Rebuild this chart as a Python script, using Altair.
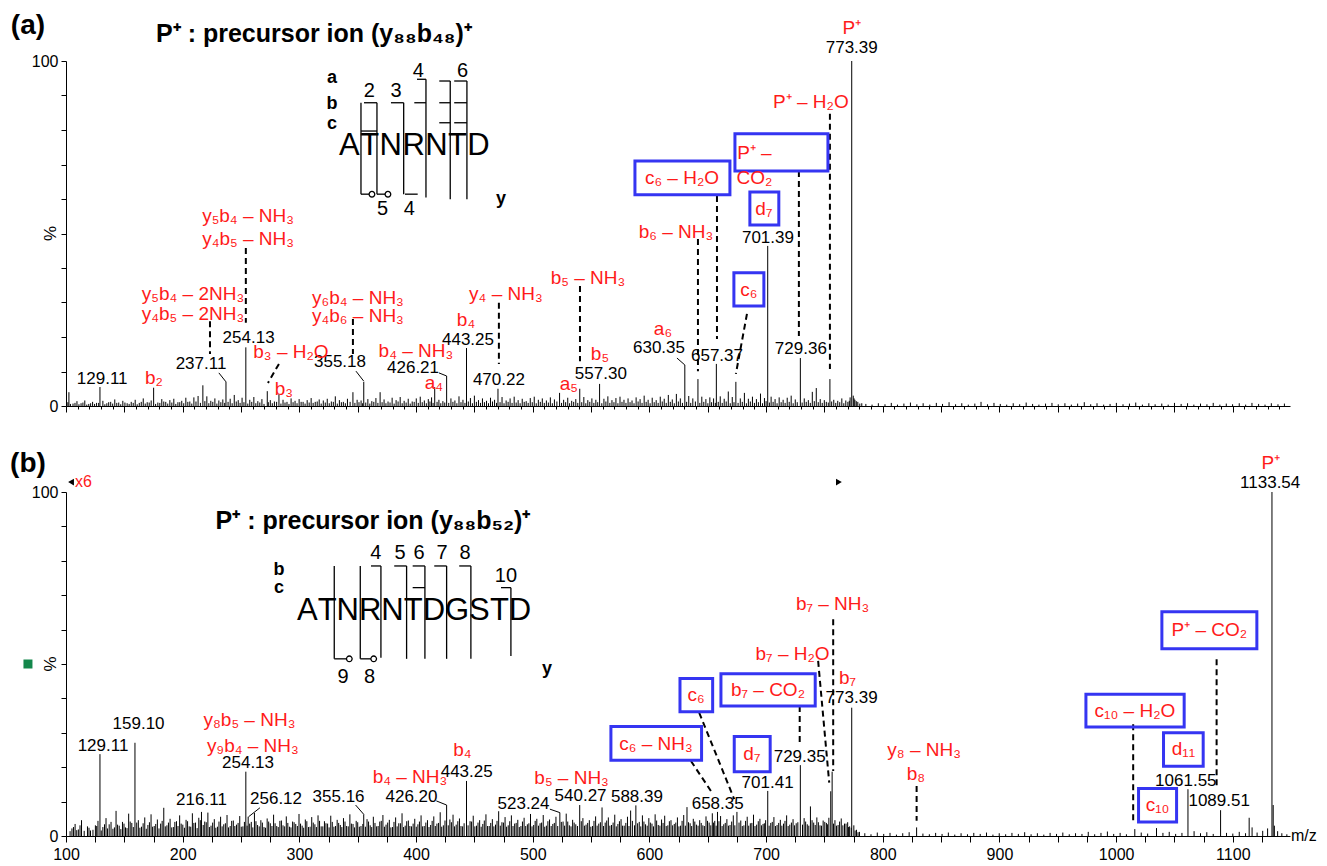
import altair as alt
import pandas as pd

FONT = "Liberation Sans"
RED = "#ff1a1a"
BLUE = "#3535f2"
GREEN = "#13874b"
X_DOMAIN = [100, 1149]
PANEL_W = 1224
TOP_H = 345
BOT_H = 344

# ---------------- panel (a) data ----------------
top_peaks = [(129.11, 5.5), (175.1, 5.3), (237.11, 7.0), (254.13, 17.0), (272.5, 4.3), (345.9, 4.0),
             (355.18, 7.0), (416.0, 5.5), (426.21, 8.7), (443.25, 16.8), (470.22, 5.0), (523.0, 3.8),
             (540.3, 5.0), (557.30, 6.4), (630.35, 11.9), (641.6, 7.8), (657.37, 12.2), (674.1, 7.0),
             (701.39, 46.4), (729.36, 13.9), (754.7, 7.8), (773.39, 100.0)]

top_noise = [
    (101.6,1.1),(102.5,4.0),(106.0,0.7),(109.4,1.4),(112.9,0.8),(116.1,1.6),(119.5,0.6),(122.8,1.2),(126.2,0.9),
    (131.6,1.5),(135.0,0.8),(138.3,1.2),(141.8,1.9),(145.2,1.0),(148.7,1.5),(152.4,0.8),(155.9,1.2),(159.3,1.8),
    (162.8,0.9),(166.2,2.2),(169.6,1.1),(173.0,1.6),(178.7,1.0),(182.1,2.0),(185.5,1.2),(189.0,1.7),(192.4,2.1),
    (195.9,1.1),(199.2,1.5),(202.7,2.4),(206.1,1.3),(209.6,2.5),(213.2,2.9),(217.3,6.0),(220.7,2.8),(224.1,1.5),
    (227.6,2.2),(231.0,1.6),(234.4,1.9),(240.7,2.1),(244.2,3.2),(247.6,1.7),(250.9,2.4),(257.5,1.8),(261.0,2.6),
    (264.4,1.4),(267.9,2.0),(275.1,1.7),(278.6,1.3),(282.5,3.4),(286.0,1.8),(289.4,1.2),(292.9,2.2),(296.3,1.5),
    (299.8,2.0),(303.2,1.2),(306.7,1.7),(310.1,2.3),(313.6,1.2),(317.0,1.9),(320.5,1.6),(323.9,2.1),(327.4,1.3),
    (330.8,2.8),(334.3,1.7),(337.7,1.2),(341.2,2.1),(349.5,1.8),(352.9,1.6),(358.7,2.0),(362.1,1.4),(365.6,2.3),
    (369.2,4.0),(372.6,1.9),(376.0,1.3),(379.5,2.4),(382.9,1.7),(386.4,2.6),(389.8,1.5),(393.3,2.1),(396.7,1.3),
    (400.2,2.2),(403.6,2.7),(407.1,1.6),(410.5,2.0),(413.3,2.5),(419.6,1.8),(423.0,1.4),(429.9,2.2),(433.3,1.6),
    (436.8,2.8),(440.2,1.8),(446.6,2.3),(450.0,3.0),(453.5,1.7),(456.9,2.2),(460.4,1.5),(463.8,2.4),(467.3,1.8),
    (473.7,2.6),(477.2,1.6),(480.6,2.2),(484.1,2.7),(487.5,1.7),(491.0,2.1),(494.4,1.4),(497.9,2.3),(501.3,2.7),
    (504.8,1.8),(508.2,2.2),(511.7,1.6),(515.1,2.5),(518.6,1.9),(526.5,1.8),(530.0,2.4),(533.4,1.5),(536.9,2.0),
    (543.8,2.6),(547.2,1.7),(550.7,2.2),(554.1,1.8),(561.0,2.1),(564.4,2.8),(567.9,1.7),(571.3,2.3),(574.8,2.7),
    (578.2,1.8),(581.7,2.2),(585.1,1.6),(588.6,2.5),(592.0,2.0),(595.5,3.0),(598.9,1.8),(602.4,2.4),(605.8,1.7),
    (609.3,2.7),(612.7,2.1),(616.2,3.2),(619.6,1.9),(623.1,3.5),(626.5,2.2),(633.7,2.9),(637.2,2.2),(644.9,2.7),
    (648.4,2.0),(651.8,2.5),(655.0,2.2),(660.7,2.8),(664.1,2.1),(667.6,4.2),(671.0,2.6),(677.9,2.2),(681.4,3.8),
    (684.8,2.1),(688.3,2.7),(691.7,2.0),(695.2,3.6),(698.6,2.3),(704.3,2.7),(707.7,2.0),(711.2,2.5),(714.6,1.8),
    (718.1,2.4),(721.5,3.0),(725.0,1.9),(732.7,2.2),(736.2,1.7),(739.6,4.1),(743.0,5.2),(746.4,2.0),(749.9,1.7),
    (758.0,1.8),(761.4,1.5),(764.9,2.2),(768.3,1.6),(772.0,2.5),(774.7,3.0),(776.1,1.8),(778.6,1.2),(782.0,0.8)]

top_fine = [
    (103.8,0.6),(107.7,0.9),(111.1,0.5),(114.5,1.0),(117.8,0.4),(121.1,0.8),(124.5,0.6),(128.0,0.9),(133.3,0.5),
    (136.6,1.1),(140.0,0.7),(143.5,0.9),(146.9,0.5),(150.5,1.0),(154.1,0.6),(157.6,0.9),(161.0,0.5),(164.5,1.2),
    (167.9,0.7),(171.3,1.0),(176.8,0.6),(180.4,0.9),(183.8,1.3),(187.2,0.7),(190.7,1.0),(194.1,0.6),(197.5,1.1),
    (200.9,0.8),(204.4,1.2),(207.8,0.7),(211.4,1.3),(215.2,0.9),(219.0,1.4),(222.4,0.8),(225.8,1.2),(229.3,0.7),
    (232.7,1.1),(236.0,0.9),(238.9,1.2),(242.4,0.8),(245.9,1.3),(249.2,0.9),(252.5,1.1),(255.8,0.7),(259.2,1.2),
    (262.7,0.8),(266.1,1.0),(269.7,0.6),(273.4,1.1),(276.8,0.8),(280.5,1.2),(284.2,0.7),(287.7,1.0),(291.1,0.6),
    (294.6,1.1),(298.0,0.8),(301.5,1.2),(304.9,0.7),(308.4,1.0),(311.8,0.9),(315.3,1.3),(318.7,0.7),(322.2,1.0),
    (325.6,0.8),(329.1,1.2),(332.5,0.7),(336.0,1.1),(339.4,0.8),(343.5,1.2),(347.6,0.9),(351.1,1.1),(354.2,0.8),
    (356.9,1.0),(360.4,0.7),(363.8,1.2),(367.3,0.9),(370.9,1.1),(374.2,0.8),(377.7,1.0),(381.2,0.7),(384.6,1.3),
    (388.1,0.8),(391.5,1.0),(395.0,0.7),(398.4,1.2),(401.9,0.9),(405.3,1.1),(408.8,0.8),(411.9,1.3),(414.6,0.9),
    (418.0,1.2),(421.2,0.8),(424.6,1.0),(428.0,0.9),(431.6,1.2),(435.0,0.8),(438.5,1.1),(441.9,0.9),(444.8,1.3),
    (448.3,0.8),(451.7,1.2),(455.2,0.9),(458.6,1.1),(462.1,0.8),(465.5,1.3),(469.0,0.9),(472.0,1.1),(475.4,0.8),
    (478.9,1.2),(482.3,0.9),(485.8,1.0),(489.2,0.8),(492.7,1.2),(496.1,0.9),(499.6,1.1),(503.0,0.8),(506.5,1.2),
    (509.9,0.9),(513.4,1.0),(516.8,0.8),(520.7,1.3),(524.7,0.9),(528.2,1.1),(531.6,0.8),(535.1,1.2),(538.6,0.9),
    (542.0,1.1),(545.5,0.8),(548.9,1.2),(552.4,0.9),(555.7,1.1),(559.2,0.8),(562.7,1.3),(566.1,0.9),(569.6,1.1),
    (573.0,0.8),(576.5,1.2),(579.9,0.9),(583.4,1.1),(586.8,0.8),(590.3,1.3),(593.7,0.9),(597.2,1.2),(600.6,0.8),
    (604.1,1.1),(607.5,0.9),(611.0,1.3),(614.4,0.9),(617.9,1.2),(621.3,0.8),(624.8,1.3),(628.3,0.9),(631.9,1.2),
    (635.4,0.9),(639.4,1.3),(643.2,0.9),(646.6,1.2),(650.1,0.8),(653.3,1.1),(656.5,0.9),(659.0,1.2),(662.4,0.9),
    (665.8,1.3),(669.3,0.8),(672.5,1.1),(676.0,0.9),(679.6,1.2),(683.1,0.8),(686.5,1.3),(690.0,0.9),(693.4,1.1),
    (696.9,0.8),(700.0,1.4),(702.8,1.0),(706.0,1.2),(709.4,0.8),(712.9,1.1),(716.3,0.9),(719.8,1.2),(723.2,0.8),
    (726.7,1.1),(730.9,1.0),(734.4,1.2),(737.9,0.9),(741.3,1.4),(744.7,1.1),(748.1,0.9),(751.6,1.2),(753.3,1.0),
    (756.2,1.3),(759.7,0.9),(763.1,1.1),(766.6,0.8),(770.1,1.2),(771.3,1.5),(775.4,2.2),(777.3,1.4),(780.3,0.7)]

top_tail = [
    (785.5,0.6),(790.8,0.4),(796.2,0.8),(801.9,0.5),(807.3,0.9),(812.6,0.4),(818.1,0.7),(823.7,1.0),(829.2,0.5),
    (834.6,0.8),(840.3,0.4),(845.9,0.9),(851.2,0.6),(856.8,1.1),(862.4,0.5),(867.7,0.8),(873.3,0.4),(878.9,0.7),
    (884.2,1.2),(889.8,0.5),(895.3,0.9),(900.7,0.6),(906.2,0.4),(911.8,0.8),(917.3,0.5),(922.9,1.0),(928.4,0.6),
    (933.8,0.4),(939.5,0.7),(945.0,0.9),(950.4,0.5),(956.1,0.8),(961.6,0.4),(967.0,0.7),(972.7,1.1),(978.2,0.5),
    (983.6,0.8),(989.3,0.4),(994.8,0.6),(1000.2,0.9),(1005.9,0.5),(1011.4,0.7),(1016.8,1.0),(1022.5,0.4),
    (1028.0,0.8),(1033.4,0.5),(1039.1,0.7),(1044.6,0.4),(1050.0,0.9),(1055.7,0.6),(1061.2,0.8),(1066.6,0.4),
    (1072.3,0.7),(1077.8,0.5),(1083.2,0.9),(1088.9,0.4),(1094.4,0.7),(1099.8,0.5),(1105.5,0.8),(1111.0,0.4),
    (1116.4,0.9),(1122.1,0.6),(1127.6,0.4),(1133.0,0.8),(1138.7,0.5),(1144.2,0.7)]

top_num_labels = [("129.11", 131.0, 7.8), ("237.11", 215.7, 12.2), ("254.13", 256.5, 19.7),
                  ("355.18", 334.8, 12.8), ("426.21", 397.4, 11.0), ("443.25", 444.5, 19.0),
                  ("470.22", 471.0, 7.5), ("557.30", 558.4, 9.3), ("630.35", 608.2, 16.8),
                  ("657.37", 657.9, 14.5), ("701.39", 701.6, 48.7), ("729.36", 729.8, 16.5),
                  ("773.39", 773.39, 103.8)]

top_ion_labels = [("b₂", 175.4, 8.1), ("y₅b₄ – 2NH₃", 208.8, 32.5), ("y₄b₅ – 2NH₃", 208.8, 26.7),
                  ("y₅b₄ – NH₃", 256.0, 55.1), ("y₄b₅ – NH₃", 256.0, 48.4), ("b₃ – H₂O", 292.8, 15.7),
                  ("b₃", 286.8, 4.9), ("y₆b₄ – NH₃", 350.2, 31.3), ("y₄b₆ – NH₃", 350.2, 26.1),
                  ("b₄ – NH₃", 399.9, 15.9), ("a₄", 415.3, 6.7), ("b₄", 442.8, 24.8),
                  ("y₄ – NH₃", 477.0, 32.5), ("a₅", 531.0, 6.4), ("b₅ – NH₃", 547.3, 37.1),
                  ("b₅", 557.6, 15.1), ("a₆", 611.6, 22.3), ("b₆ – NH₃", 622.7, 50.4),
                  ("P⁺ – H₂O", 738.4, 88.1), ("P⁺", 773.39, 109.6),
                  ("c₆ – H₂O", 627.9, 66.1), ("c₆", 685.3, 33.6), ("d₇", 698.1, 57.1),
                  ("P⁺ –", 690.0, 73.3), ("CO₂", 690.0, 66.1)]

top_boxes = [(587.6, 669.0, 61.2, 71.0), (672.4, 698.1, 29.0, 38.6),
             (686.1, 710.9, 52.5, 62.0), (673.3, 753.0, 68.1, 78.9)]

top_dashed = [(254.13, 45.8, 254.13, 24.1), (223.4, 24.6, 223.4, 15.1), (282.5, 12.2, 273.1, 6.7),
              (345.9, 25.2, 345.9, 15.1), (471.0, 29.9, 471.0, 12.2), (540.5, 34.8, 540.5, 13.0),
              (641.6, 48.4, 641.6, 10.1), (657.9, 60.9, 657.9, 19.4), (683.6, 26.7, 674.1, 9.3),
              (728.1, 68.1, 728.1, 20.3), (754.7, 84.7, 754.7, 10.7)]

top_leaders = [(231.0, 9.6, 237.11, 7.0), (348.5, 10.1, 355.18, 7.2),
               (419.6, 9.6, 426.21, 8.7), (623.6, 13.9, 630.35, 11.9)]

top_seq_letters = list("ATNRNTD")
top_seq_mz = [342.9, 360.2, 378.3, 397.9, 417.4, 435.4, 453.5]
top_seq_level = 75.4
top_seq_lines = [(352.8, 87.9, 352.8, 61.4), (352.8, 61.4, 362.2, 61.4), (366.5, 87.9, 366.5, 61.4),
                 (366.5, 61.4, 375.9, 61.4), (355.4, 87.9, 366.5, 87.9), (352.8, 79.7, 366.5, 79.7),
                 (389.4, 87.9, 389.4, 61.4), (378.5, 87.9, 389.4, 87.9), (390.5, 61.4, 401.4, 61.4),
                 (408.5, 94.7, 408.5, 60.4), (400.8, 94.7, 408.5, 94.7), (398.5, 87.9, 408.5, 87.9),
                 (429.3, 94.2, 429.3, 59.9), (419.9, 94.2, 429.3, 94.2), (419.9, 87.9, 429.3, 87.9),
                 (419.9, 82.1, 429.3, 82.1), (443.6, 94.2, 443.6, 59.9), (432.7, 94.2, 443.6, 94.2),
                 (432.7, 87.9, 443.6, 87.9), (432.7, 82.1, 443.6, 82.1)]
top_seq_circles = [(362.2, 61.4), (375.9, 61.4)]
top_seq_numbers = [("2", 359.9, 91.3), ("3", 382.8, 91.3), ("4", 401.9, 97.1), ("6", 439.9, 97.1),
                   ("5", 371.4, 57.0), ("4", 394.2, 57.0)]
top_series_letters = [("a", 327.9, 95.1), ("b", 327.9, 87.6), ("c", 327.9, 81.8), ("y", 472.8, 60.0)]
top_title = [("P⁺ : precursor ion (y₈₈b₄₈)⁺", 312.5, 107.8)]
top_panel_tag = [("(a)", 67.4, 110.2)]

# ---------------- panel (b) data ----------------
bot_peaks = [(129.11, 23.8), (142.9, 7.3), (159.10, 27.1), (216.11, 7.0), (254.13, 18.7), (256.12, 5.6),
             (355.16, 6.3), (426.20, 9.0), (443.25, 16.0), (523.24, 6.8), (540.27, 9.0), (588.39, 8.9),
             (658.35, 7.0), (675.0, 7.0), (701.41, 13.1), (729.35, 20.6), (755.4, 13.0), (756.6, 18.7),
             (773.39, 37.3), (829.0, 2.5), (1016.0, 2.0), (1034.6, 2.3), (1061.55, 13.6), (1089.51, 7.5),
             (1114.0, 5.3), (1116.5, 2.5), (1133.54, 100.0), (1134.6, 9.0), (1135.6, 3.0)]

bot_noise = [
    (105.1,2.2),(107.8,3.5),(110.6,1.9),(113.3,4.6),(118.4,2.8),(121.0,1.6),(125.2,3.1),(127.4,4.4),(131.6,2.6),
    (134.3,5.2),(137.0,3.4),(140.2,2.1),(145.6,3.0),(148.4,4.1),(151.0,2.5),(153.7,6.5),(156.4,3.8),(162.0,4.6),
    (164.7,2.7),(167.5,5.4),(170.2,3.2),(172.9,6.3),(175.6,2.9),(178.3,4.8),(181.1,3.6),(183.8,8.2),(186.5,3.1),
    (189.2,5.0),(192.0,2.6),(194.7,4.3),(197.4,6.0),(200.1,3.3),(202.9,4.7),(205.6,2.8),(208.3,6.6),(211.0,3.9),
    (213.8,5.3),(218.9,4.2),(221.6,6.8),(224.3,3.0),(227.1,4.9),(229.8,2.7),(232.5,5.6),(235.2,3.4),(238.0,6.1),
    (240.7,2.9),(243.4,4.5),(246.1,3.3),(248.9,5.8),(251.6,2.8),(258.8,4.1),(261.5,6.7),(264.2,3.2),(267.0,4.6),
    (269.7,2.6),(272.4,5.1),(275.1,3.7),(277.9,6.2),(280.6,2.9),(283.3,4.4),(286.0,3.1),(288.8,5.7),(291.5,2.7),
    (294.2,4.2),(296.9,3.5),(299.7,6.4),(302.4,3.0),(305.1,4.8),(307.8,2.6),(310.6,5.5),(313.3,3.4),(316.0,6.0),
    (318.7,2.8),(321.5,4.3),(324.2,3.6),(326.9,5.9),(329.6,2.7),(332.4,4.7),(335.1,3.2),(337.8,5.2),(340.5,2.9),
    (343.3,6.3),(346.0,3.5),(348.7,4.4),(351.4,2.7),(358.0,4.9),(360.7,3.1),(363.4,5.6),(366.2,2.8),(368.9,4.2),
    (371.6,6.1),(374.3,3.3),(377.1,4.7),(379.8,2.6),(382.5,5.4),(385.2,3.7),(388.0,6.6),(390.7,3.0),(393.4,4.5),
    (396.1,2.8),(398.9,5.0),(401.6,3.4),(404.3,6.0),(407.0,2.9),(409.8,4.6),(412.5,3.2),(415.2,5.7),(417.9,3.6),
    (420.7,6.9),(423.4,3.1),(429.0,4.8),(431.7,6.2),(434.4,3.3),(437.2,5.1),(439.9,2.8),(446.3,4.3),(449.0,5.9),
    (451.8,3.0),(454.5,4.6),(457.2,3.5),(459.9,6.3),(462.7,2.9),(465.4,4.9),(468.1,3.3),(470.8,7.2),(473.6,4.0),
    (476.3,5.5),(479.0,3.1),(481.7,6.0),(484.5,3.6),(487.2,4.7),(489.9,2.9),(492.6,5.3),(495.4,3.4),(498.1,6.4),
    (500.8,3.2),(503.5,5.0),(506.3,3.7),(509.0,6.1),(511.7,3.0),(514.4,4.8),(517.2,3.5),(519.9,5.6),(526.0,4.2),
    (528.7,6.5),(531.4,3.1),(534.2,4.7),(536.9,3.4),(543.0,5.2),(545.7,3.3),(548.5,4.6),(551.2,2.9),(553.9,5.7),
    (556.6,3.6),(559.4,8.3),(562.1,3.9),(564.8,5.4),(567.5,3.2),(570.3,6.2),(573.0,3.5),(575.7,4.9),(578.4,3.0),
    (581.2,5.6),(583.9,7.4),(591.3,4.1),(594.0,6.0),(596.7,3.4),(599.5,5.2),(602.2,3.6),(604.9,6.3),(607.6,3.2),
    (610.4,4.8),(613.1,5.9),(615.8,3.1),(618.5,4.6),(621.3,3.5),(624.0,5.4),(626.7,3.0),(629.4,6.1),(632.2,8.4),
    (634.9,3.7),(637.6,5.0),(640.3,3.3),(643.1,4.6),(645.8,3.1),(648.5,5.7),(651.2,3.9),(653.9,6.6),(656.0,4.4),
    (661.0,5.8),(663.7,3.4),(666.4,4.9),(669.1,3.2),(671.9,6.0),(678.3,4.5),(681.0,3.1),(683.8,5.6),(686.5,3.7),
    (689.2,6.2),(691.9,3.3),(694.7,5.0),(697.4,3.5),(699.6,4.6),(704.0,3.8),(706.7,5.5),(709.4,3.2),(712.2,4.7),
    (714.9,3.6),(717.6,6.0),(720.3,3.3),(723.1,4.9),(725.8,3.7),(732.6,5.2),(735.3,3.4),(738.0,8.6),(740.8,3.9),
    (743.5,5.4),(746.2,3.1),(748.9,4.5),(751.7,3.8),(753.8,5.3),(759.0,4.6),(761.7,3.2),(764.4,5.1),(767.2,3.6),
    (769.9,4.0),(771.6,2.8),(775.2,3.1),(777.5,1.8),(780.0,1.2)]

bot_fine = [
    (103.5,1.4),(106.4,2.6),(109.2,1.7),(112.0,3.1),(115.6,1.5),(119.7,2.4),(123.1,1.8),(126.3,2.9),(130.2,1.6),
    (133.0,3.4),(135.6,2.2),(138.6,4.1),(141.5,2.5),(144.2,3.3),(147.0,2.0),(149.7,3.6),(152.3,2.3),(155.0,4.2),
    (157.7,2.6),(160.6,3.9),(163.3,2.4),(166.1,3.7),(168.8,2.1),(171.5,4.0),(174.2,2.7),(176.9,3.5),(179.7,2.2),
    (182.4,4.4),(185.1,2.8),(187.8,3.9),(190.6,2.5),(193.3,4.1),(196.0,2.9),(198.7,3.6),(201.5,2.4),(204.2,4.3),
    (206.9,2.7),(209.6,3.8),(212.4,2.3),(215.1,4.6),(217.6,3.2),(220.2,4.0),(222.9,2.6),(225.7,3.9),(228.4,2.4),
    (231.1,4.2),(233.8,2.8),(236.6,3.7),(239.3,2.5),(242.0,4.4),(244.7,2.9),(247.5,3.8),(250.2,2.7),(252.9,4.1),
    (255.2,3.0),(257.4,3.6),(260.1,2.5),(262.8,4.3),(265.6,2.8),(268.3,3.9),(271.0,2.4),(273.7,4.2),(276.5,2.9),
    (279.2,3.7),(281.9,2.6),(284.6,4.5),(287.4,2.8),(290.1,3.8),(292.8,2.5),(295.5,4.0),(298.3,2.9),(301.0,3.6),
    (303.7,2.4),(306.4,4.3),(309.2,2.7),(311.9,3.9),(314.6,2.6),(317.3,4.4),(320.1,2.8),(322.8,3.7),(325.5,2.5),
    (328.2,4.1),(331.0,2.9),(333.7,3.8),(336.4,2.6),(339.1,4.2),(341.9,2.8),(344.6,3.6),(347.3,2.5),(350.0,4.0),
    (352.8,2.9),(354.4,3.5),(356.6,2.7),(359.3,4.2),(362.0,2.6),(364.8,3.8),(367.5,2.9),(370.2,4.4),(372.9,2.7),
    (375.7,3.9),(378.4,2.5),(381.1,4.1),(383.8,2.8),(386.6,3.7),(389.3,2.6),(392.0,4.3),(394.7,2.9),(397.5,3.6),
    (400.2,2.7),(402.9,4.2),(405.6,2.8),(408.4,3.9),(411.1,2.6),(413.8,4.4),(416.5,2.9),(419.3,3.8),(422.0,2.7),
    (424.8,4.5),(427.6,3.1),(430.3,4.0),(433.0,2.8),(435.8,4.3),(438.5,2.9),(441.2,3.7),(444.6,3.1),(447.6,4.2),
    (450.4,2.8),(453.1,3.9),(455.8,2.7),(458.5,4.5),(461.3,2.9),(464.0,3.8),(466.7,2.8),(469.4,4.4),(472.2,3.0),
    (474.9,3.9),(477.6,2.7),(480.3,4.3),(483.1,2.9),(485.8,3.8),(488.5,2.6),(491.2,4.2),(494.0,2.9),(496.7,3.7),
    (499.4,2.8),(502.1,4.4),(504.9,3.0),(507.6,3.9),(510.3,2.7),(513.0,4.3),(515.8,2.9),(518.5,3.8),(521.4,2.9),
    (524.5,4.1),(527.3,3.0),(530.0,4.2),(532.8,2.8),(535.5,3.9),(538.4,2.9),(541.6,4.3),(544.3,3.0),(547.1,3.8),
    (549.8,2.7),(552.5,4.4),(555.2,3.0),(558.0,4.0),(560.7,2.9),(563.4,4.5),(566.1,3.0),(568.9,3.9),(571.6,2.8),
    (574.3,4.3),(577.0,3.0),(579.8,3.8),(582.5,2.9),(585.4,4.4),(587.2,3.1),(589.9,3.7),(592.6,2.8),(595.3,4.2),
    (598.1,3.0),(600.8,3.9),(603.5,2.8),(606.2,4.5),(609.0,3.0),(611.7,3.8),(614.4,2.9),(617.1,4.3),(619.9,3.1),
    (622.6,3.9),(625.3,2.8),(628.0,4.4),(630.8,3.0),(633.5,4.0),(636.2,2.9),(638.9,4.2),(641.7,3.0),(644.4,3.8),
    (647.1,2.9),(649.8,4.4),(652.6,3.1),(655.0,3.9),(657.2,3.0),(659.6,4.3),(662.3,2.9),(665.0,3.8),(667.7,3.0),
    (670.5,4.2),(673.2,3.1),(676.8,3.9),(679.6,2.9),(682.4,4.4),(685.1,3.0),(687.8,3.8),(690.5,2.9),(693.3,4.3),
    (696.0,3.1),(698.5,3.7),(702.6,3.0),(705.3,4.1),(708.0,2.9),(710.8,3.8),(713.5,3.0),(716.2,4.4),(718.9,2.9),
    (721.7,3.9),(724.4,3.1),(727.2,4.0),(731.2,3.3),(733.9,4.2),(736.6,3.0),(739.4,4.6),(742.1,3.2),(744.8,4.0),
    (747.5,3.0),(750.3,4.1),(752.7,3.4),(757.8,3.6),(760.3,3.0),(763.0,4.2),(765.8,3.1),(768.5,3.6),(770.7,2.6),
    (773.0,2.4),(776.3,1.6),(778.8,1.1)]

bot_tail = [
    (784.6,0.8),(789.9,0.5),(795.3,1.0),(800.8,0.6),(806.2,0.9),(811.7,0.4),(817.1,0.8),(822.6,1.1),(834.4,0.7),
    (839.9,0.5),(845.3,0.9),(850.8,0.6),(856.2,1.0),(861.7,0.4),(867.1,0.8),(872.6,0.5),(878.0,0.9),(883.5,0.6),
    (888.9,1.0),(894.4,0.4),(899.8,0.8),(905.3,0.5),(910.7,0.9),(916.2,0.6),(921.6,1.1),(927.1,0.5),(932.5,0.8),
    (938.0,0.4),(943.4,0.9),(948.9,0.6),(954.3,1.0),(959.8,0.5),(965.2,0.8),(970.7,0.6),(976.1,1.2),(981.6,0.5),
    (987.0,0.9),(992.5,1.3),(997.9,0.6),(1003.4,0.9),(1008.8,0.5),(1021.5,1.0),(1027.0,0.7),(1040.1,0.9),
    (1045.5,1.2),(1051.0,0.6),(1056.4,0.9),(1066.8,1.4),(1072.3,0.8),(1077.7,1.1),(1083.2,0.6),(1094.6,0.9),
    (1100.0,0.7),(1105.5,1.2),(1110.9,0.8),(1120.8,1.0),(1125.6,1.5),(1129.8,2.2),(1138.4,1.4),(1142.0,0.8),
    (1146.3,0.5)]

bot_num_labels = [("129.11", 131.7, 26.2), ("159.10", 162.2, 32.6), ("216.11", 216.1, 10.5),
                  ("254.13", 256.0, 21.2), ("256.12", 280.0, 10.8), ("355.16", 333.6, 11.3),
                  ("426.20", 396.1, 11.4), ("443.25", 443.4, 18.7), ("523.24", 492.1, 9.3),
                  ("540.27", 541.0, 11.6), ("588.39", 589.3, 11.3), ("658.35", 658.5, 9.4),
                  ("701.41", 701.3, 15.5), ("729.35", 728.8, 23.0), ("773.39", 773.3, 40.2),
                  ("1061.55", 1059.7, 16.0), ("1089.51", 1088.3, 10.2), ("1133.54", 1132.0, 102.7)]

bot_ion_labels = [("y₈b₅ – NH₃", 257.2, 33.7), ("y₉b₄ – NH₃", 260.2, 26.2), ("b₄ – NH₃", 394.8, 17.1),
                  ("b₄", 439.7, 24.9), ("b₅ – NH₃", 533.3, 16.9), ("b₇ – H₂O", 722.7, 53.0),
                  ("b₇ – NH₃", 757.0, 67.5), ("b₇", 769.8, 46.0), ("y₈ – NH₃", 835.5, 24.9),
                  ("b₈", 828.4, 18.1), ("P⁺", 1132.6, 108.5),
                  ("c₆ – NH₃", 605.6, 26.8), ("c₆", 639.9, 41.0), ("d₇", 687.8, 23.8),
                  ("b₇ – CO₂", 701.6, 42.4), ("P⁺ – CO₂", 1079.9, 59.9), ("c₁₀ – H₂O", 1016.1, 36.4),
                  ("d₁₁", 1057.6, 25.3), ("c₁₀", 1035.5, 8.9)]

bot_boxes = [(567.0, 644.7, 22.0, 31.8), (626.2, 654.2, 36.1, 45.8), (672.7, 703.5, 18.7, 28.9),
             (661.3, 742.1, 37.8, 47.2), (1039.2, 1120.6, 54.4, 65.2), (974.1, 1058.3, 31.7, 41.2),
             (1040.6, 1074.6, 20.3, 30.0), (1019.2, 1051.8, 4.1, 13.8)]

bot_dashed = [(635.6, 21.8, 652.7, 13.1), (642.7, 35.8, 672.7, 10.7), (728.8, 37.8, 728.8, 26.8),
              (744.6, 50.9, 754.1, 15.5), (757.5, 63.0, 757.5, 18.9), (829.0, 14.5, 829.0, 4.4),
              (1086.1, 51.4, 1086.1, 14.0), (1014.6, 32.5, 1014.6, 4.4)]

bot_leaders = [(266.2, 8.2, 256.5, 5.6), (348.2, 9.0, 355.16, 6.3),
               (417.4, 10.2, 426.2, 9.0), (514.7, 7.8, 523.24, 6.8)]

bot_seq_letters = list("ATNRNTDGSTD")
bot_seq_mz = [306.8, 323.8, 341.5, 360.7, 379.8, 397.5, 415.3, 435.2, 454.3, 471.4, 489.0]
bot_seq_level = 65.4
bot_seq_lines = [(329.9, 78.5, 329.9, 51.5), (329.9, 51.5, 342.8, 51.5), (352.2, 78.5, 352.2, 51.5),
                 (352.2, 51.5, 363.7, 51.5), (369.9, 78.5, 369.9, 51.8), (361.4, 78.5, 369.9, 78.5),
                 (391.9, 78.5, 391.9, 51.5), (381.3, 78.5, 391.9, 78.5), (407.6, 78.5, 407.6, 51.5),
                 (397.1, 78.5, 407.6, 78.5), (397.1, 72.2, 407.6, 72.2), (426.2, 78.5, 426.2, 51.5),
                 (415.6, 78.5, 426.2, 78.5), (447.0, 78.5, 447.0, 51.5), (437.0, 78.5, 447.0, 78.5),
                 (481.3, 72.2, 481.3, 52.3), (472.8, 72.2, 481.3, 72.2)]
bot_seq_circles = [(342.8, 51.5), (363.7, 51.5)]
bot_seq_numbers = [("4", 365.6, 82.3), ("5", 386.2, 82.3), ("6", 402.5, 82.3), ("7", 422.2, 82.3),
                   ("8", 441.9, 82.3), ("10", 477.0, 75.6), ("9", 337.4, 46.2), ("8", 360.1, 46.2)]
bot_series_letters = [("b", 282.5, 77.3), ("c", 282.5, 72.1), ("y", 512.2, 48.5)]
bot_title = [("P⁺ : precursor ion (y₈₈b₅₂)⁺", 363.1, 91.6)]
bot_panel_tag = [("(b)", 67.4, 108.1)]
bot_zoom_text = [("x6", 115.0, 102.9)]
bot_zoom_left = [(104.3, 102.9)]
bot_zoom_right = [(762.4, 102.9)]
bot_marker = [(67.4, 50.0)]
axis_unit_pos = [("%", 87.1, 50.0)]
mz_title = [("m/z", 1160.9, 0.0)]

# ---------------- helpers ----------------
Y_AXIS = alt.Axis(values=list(range(0, 101, 10)),
                  labelExpr="datum.value === 0 || datum.value === 100 ? datum.label : ''",
                  tickSize=5, labelFontSize=16, labelOverlap=False, labelFlush=False,
                  labelPadding=3, title=None)
TOP_X_AXIS = alt.Axis(values=list(range(100, 1150, 10)), labels=False, title=None,
                      tickSize={"condition": {"test": "datum.value % 50 === 0", "value": 6}, "value": 3})
BOT_X_AXIS = alt.Axis(values=list(range(100, 1150, 25)), format="d",
                      labelExpr="datum.value % 100 === 0 ? datum.label : ''",
                      tickSize=6, labelFontSize=16, labelOverlap=False, labelFlush=False,
                      labelPadding=4, title=None)


def ex(axis):
    return alt.X("mz:Q", scale=alt.Scale(domain=X_DOMAIN, nice=False, zero=False), axis=axis, title=None)


def ey():
    return alt.Y("h:Q", scale=alt.Scale(domain=[0, 100], nice=False, zero=True), axis=Y_AXIS, title=None)


def stems(rows, axis):
    df = pd.DataFrame(rows, columns=["mz", "h"])
    return alt.Chart(df).mark_rule(color="black", strokeWidth=1).encode(x=ex(axis), y=ey(), y2=alt.datum(0))


def segs(rows, axis, **kw):
    df = pd.DataFrame(rows, columns=["mz", "h", "mz2", "h2"])
    return alt.Chart(df).mark_rule(**kw).encode(x=ex(axis), y=ey(), x2="mz2:Q", y2="h2:Q")


def boxes(rows, axis):
    df = pd.DataFrame(rows, columns=["mz", "mz2", "h", "h2"])
    return alt.Chart(df).mark_rect(fillOpacity=0, stroke=BLUE, strokeWidth=3).encode(
        x=ex(axis), x2="mz2:Q", y=ey(), y2="h2:Q")


def texts(rows, axis, **kw):
    df = pd.DataFrame(rows, columns=["t", "mz", "h"])
    return alt.Chart(df).mark_text(font=FONT, baseline="middle", align="center", **kw).encode(
        x=ex(axis), y=ey(), text="t:N")


def points(rows, axis, **kw):
    df = pd.DataFrame(rows, columns=["mz", "h"])
    return alt.Chart(df).mark_point(opacity=1, **kw).encode(x=ex(axis), y=ey())


def panel(peaks, noise, tail, nums, ions, bxs, dashed, leaders, letters, letters_mz, level,
          seq_lines, circles, seq_nums, series, title, tag, axis, height, extra):
    seq = [(l, m, level) for l, m in zip(letters, letters_mz)]
    layers = [
        stems(list(noise) + list(tail) + list(peaks), axis),
        segs(dashed, axis, color="black", strokeWidth=2, strokeDash=[6, 4]),
        segs(leaders, axis, color="black", strokeWidth=1),
        boxes(bxs, axis),
        texts(nums, axis, fontSize=17, color="black"),
        texts(ions, axis, fontSize=19, color=RED),
        segs(seq_lines, axis, color="black", strokeWidth=1.3),
        points(circles, axis, shape="circle", filled=True, fill="white", stroke="black",
               strokeWidth=1.3, size=32),
        texts(seq, axis, fontSize=31, color="black"),
        texts(seq_nums, axis, fontSize=20, color="black"),
        texts(series, axis, fontSize=18, fontWeight="bold", color="black"),
        texts(title, axis, fontSize=25, fontWeight="bold", color="black"),
        texts(tag, axis, fontSize=28, fontWeight="bold", color="black"),
        texts(axis_unit_pos, axis, fontSize=17, color="black", angle=270),
    ] + extra
    return alt.layer(*layers).properties(width=PANEL_W, height=height)


top = panel(top_peaks, top_noise + top_fine, top_tail, top_num_labels, top_ion_labels, top_boxes, top_dashed,
            top_leaders, top_seq_letters, top_seq_mz, top_seq_level, top_seq_lines, top_seq_circles,
            top_seq_numbers, top_series_letters, top_title, top_panel_tag, TOP_X_AXIS, TOP_H, [])

bot_extra = [
    texts(bot_zoom_text, BOT_X_AXIS, fontSize=16, color=RED),
    points(bot_zoom_left, BOT_X_AXIS, shape="triangle-left", filled=True, color="black", size=45),
    points(bot_zoom_right, BOT_X_AXIS, shape="triangle-right", filled=True, color="black", size=45),
    alt.Chart(pd.DataFrame(bot_marker, columns=["mz", "h"])).mark_square(
        color=GREEN, size=81, opacity=1).encode(x=ex(BOT_X_AXIS), y=ey()),
    texts(mz_title, BOT_X_AXIS, fontSize=16, color="black"),
]

bottom = panel(bot_peaks, bot_noise + bot_fine, bot_tail, bot_num_labels, bot_ion_labels, bot_boxes,
               bot_dashed, bot_leaders, bot_seq_letters, bot_seq_mz, bot_seq_level, bot_seq_lines,
               bot_seq_circles, bot_seq_numbers, bot_series_letters, bot_title, bot_panel_tag,
               BOT_X_AXIS, BOT_H, bot_extra)

chart = alt.vconcat(top, bottom, spacing=86, bounds="flush").properties(
    padding={"left": 2, "top": 3, "right": 0, "bottom": 0}
).configure_view(stroke=None).configure_axis(
    grid=False, domainColor="black", tickColor="black", labelColor="black", labelFont=FONT,
    domainWidth=1, tickWidth=1
)

chart.save("out.html", embed_options={"renderer": "svg", "actions": False})
